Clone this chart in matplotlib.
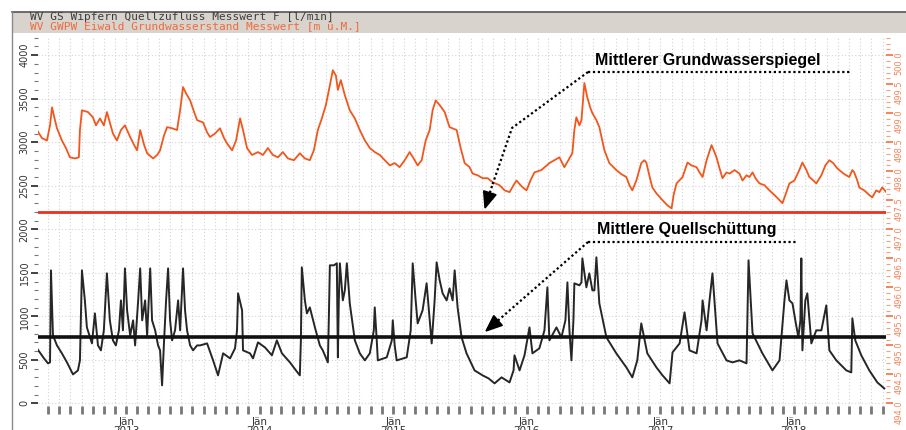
import numpy as np
import pandas as pd
import matplotlib
matplotlib.use("Agg")
import matplotlib.pyplot as plt
import matplotlib.dates as mdates
from matplotlib.ticker import MultipleLocator, FuncFormatter
from matplotlib.lines import Line2D
from matplotlib.patches import Polygon, Rectangle

# spring discharge [l/min], time in decimal years
flow_t = [2012.334, 2012.387, 2012.417, 2012.432, 2012.439, 2012.454, 2012.484, 2012.521, 2012.559, 2012.604,
          2012.641, 2012.656, 2012.671, 2012.693, 2012.708, 2012.746, 2012.768, 2012.791, 2012.813, 2012.835,
          2012.858, 2012.880, 2012.903, 2012.925, 2012.948, 2012.963, 2012.978, 2012.993, 2013.007, 2013.030,
          2013.052, 2013.067, 2013.090, 2013.105, 2013.120, 2013.142, 2013.157, 2013.180, 2013.194, 2013.217,
          2013.239, 2013.254, 2013.269, 2013.284, 2013.299, 2013.314, 2013.329, 2013.344, 2013.366, 2013.389,
          2013.404, 2013.426, 2013.441, 2013.456, 2013.479, 2013.501, 2013.531, 2013.553, 2013.606, 2013.651,
          2013.688, 2013.726, 2013.778, 2013.815, 2013.830, 2013.838, 2013.868, 2013.875, 2013.927, 2013.950,
          2013.987, 2014.040, 2014.092, 2014.129, 2014.167, 2014.227, 2014.272, 2014.301, 2014.309, 2014.316,
          2014.339, 2014.354, 2014.376, 2014.414, 2014.451, 2014.473, 2014.511, 2014.518, 2014.526, 2014.556,
          2014.578, 2014.586, 2014.593, 2014.601, 2014.623, 2014.638, 2014.653, 2014.675, 2014.713, 2014.750,
          2014.788, 2014.825, 2014.855, 2014.862, 2014.877, 2014.885, 2014.952, 2014.990, 2014.997, 2015.012,
          2015.027, 2015.102, 2015.132, 2015.147, 2015.169, 2015.184, 2015.221, 2015.251, 2015.274, 2015.289,
          2015.311, 2015.326, 2015.349, 2015.371, 2015.401, 2015.423, 2015.446, 2015.461, 2015.483, 2015.513,
          2015.550, 2015.610, 2015.670, 2015.715, 2015.760, 2015.812, 2015.872, 2015.902, 2015.909, 2015.947,
          2015.984, 2016.022, 2016.044, 2016.096, 2016.134, 2016.156, 2016.171, 2016.224, 2016.261, 2016.291,
          2016.306, 2016.321, 2016.336, 2016.351, 2016.358, 2016.396, 2016.411, 2016.418, 2016.448, 2016.470,
          2016.493, 2016.508, 2016.523, 2016.545, 2016.598, 2016.672, 2016.747, 2016.792, 2016.829, 2016.859,
          2016.904, 2016.972, 2017.016, 2017.069, 2017.091, 2017.144, 2017.181, 2017.218, 2017.271, 2017.308,
          2017.316, 2017.346, 2017.368, 2017.390, 2017.428, 2017.495, 2017.540, 2017.592, 2017.645, 2017.660,
          2017.690, 2017.764, 2017.839, 2017.892, 2017.929, 2017.944, 2017.966, 2017.989, 2018.011, 2018.034,
          2018.049, 2018.056, 2018.064, 2018.086, 2018.101, 2018.131, 2018.168, 2018.206, 2018.243, 2018.266,
          2018.318, 2018.393, 2018.430, 2018.438, 2018.460, 2018.505, 2018.565, 2018.625, 2018.677]
flow_v = [632, 517, 460, 471, 1528, 781, 666, 575, 471, 333,
          379, 494, 1528, 1183, 873, 689, 1034, 666, 609, 839,
          1494, 954, 724, 666, 839, 1183, 839, 1551, 1069, 781,
          954, 666, 1183, 1551, 954, 1183, 781, 1551, 954, 839,
          666, 609, 207, 724, 1183, 1551, 954, 724, 839, 1183,
          839, 1551, 1069, 839, 666, 609, 666, 666, 689, 494,
          322, 575, 517, 632, 839, 1264, 1069, 609, 575, 517,
          701, 643, 552, 724, 575, 471, 379, 322, 724, 1563,
          1183, 1034, 1103, 873, 666, 609, 471, 954, 1586, 1586,
          1609, 529, 1183, 1609, 1183, 1298, 1609, 1149, 724, 575,
          494, 575, 839, 1103, 724, 494, 529, 724, 954, 666,
          494, 529, 839, 1609, 1183, 919, 1069, 1379, 954, 689,
          1183, 1620, 1413, 1264, 1183, 1321, 1183, 1528, 1103, 758,
          575, 379, 322, 287, 230, 299, 241, 379, 552, 379,
          552, 873, 575, 632, 839, 1333, 724, 873, 758, 954,
          1390, 839, 494, 954, 1379, 1356, 1390, 1666, 1333, 1494,
          1298, 1298, 1678, 1149, 758, 575, 414, 299, 494, 919,
          575, 414, 322, 230, 586, 689, 1046, 609, 575, 954,
          1183, 839, 1183, 1494, 689, 494, 471, 494, 460, 1643,
          804, 575, 379, 494, 1183, 1413, 1183, 1149, 954, 758,
          954, 1666, 609, 1183, 1264, 689, 839, 839, 1126, 609,
          494, 379, 356, 977, 724, 552, 379, 241, 172]

# groundwater level [m ü.M.], time in decimal years
level_t = [2012.334, 2012.372, 2012.409, 2012.432, 2012.447, 2012.469, 2012.484, 2012.521, 2012.551, 2012.581,
           2012.619, 2012.648, 2012.656, 2012.671, 2012.716, 2012.753, 2012.776, 2012.806, 2012.835, 2012.858,
           2012.880, 2012.903, 2012.933, 2012.963, 2012.993, 2013.030, 2013.060, 2013.082, 2013.105, 2013.135,
           2013.157, 2013.202, 2013.232, 2013.254, 2013.284, 2013.307, 2013.344, 2013.381, 2013.404, 2013.426,
           2013.449, 2013.479, 2013.509, 2013.531, 2013.576, 2013.606, 2013.628, 2013.666, 2013.703, 2013.733,
           2013.755, 2013.793, 2013.823, 2013.853, 2013.875, 2013.905, 2013.942, 2013.987, 2014.025, 2014.062,
           2014.099, 2014.137, 2014.174, 2014.212, 2014.257, 2014.301, 2014.339, 2014.376, 2014.406, 2014.436,
           2014.466, 2014.496, 2014.526, 2014.548, 2014.571, 2014.586, 2014.608, 2014.638, 2014.675, 2014.713,
           2014.750, 2014.788, 2014.825, 2014.862, 2014.900, 2014.937, 2014.975, 2015.012, 2015.049, 2015.087,
           2015.124, 2015.154, 2015.184, 2015.214, 2015.244, 2015.274, 2015.296, 2015.319, 2015.349, 2015.386,
           2015.423, 2015.476, 2015.506, 2015.536, 2015.573, 2015.595, 2015.633, 2015.670, 2015.708, 2015.745,
           2015.797, 2015.835, 2015.872, 2015.902, 2015.924, 2015.962, 2015.999, 2016.029, 2016.059, 2016.111,
           2016.171, 2016.209, 2016.246, 2016.283, 2016.321, 2016.343, 2016.358, 2016.373, 2016.396, 2016.411,
           2016.433, 2016.455, 2016.478, 2016.493, 2016.523, 2016.545, 2016.583, 2016.620, 2016.650, 2016.672,
           2016.710, 2016.747, 2016.770, 2016.792, 2016.822, 2016.859, 2016.882, 2016.897, 2016.919, 2016.942,
           2016.972, 2017.016, 2017.054, 2017.084, 2017.099, 2017.121, 2017.166, 2017.203, 2017.233, 2017.271,
           2017.293, 2017.316, 2017.346, 2017.383, 2017.405, 2017.420, 2017.443, 2017.465, 2017.495, 2017.518,
           2017.555, 2017.592, 2017.615, 2017.645, 2017.667, 2017.690, 2017.712, 2017.742, 2017.779, 2017.817,
           2017.854, 2017.892, 2017.914, 2017.936, 2017.966, 2018.004, 2018.041, 2018.064, 2018.094, 2018.116,
           2018.146, 2018.168, 2018.206, 2018.236, 2018.266, 2018.295, 2018.325, 2018.340, 2018.378, 2018.415,
           2018.438, 2018.452, 2018.475, 2018.490, 2018.527, 2018.565, 2018.587, 2018.617, 2018.640, 2018.662,
           2018.692]
level_v = [498.71, 498.57, 498.53, 498.79, 499.10, 498.88, 498.74, 498.53, 498.40, 498.24,
           498.22, 498.24, 498.71, 499.05, 499.02, 498.93, 498.79, 498.91, 498.79, 499.02,
           498.84, 498.65, 498.53, 498.71, 498.79, 498.59, 498.45, 498.36, 498.71, 498.45,
           498.31, 498.22, 498.28, 498.36, 498.62, 498.76, 498.74, 498.71, 499.05, 499.45,
           499.34, 499.22, 499.02, 498.88, 498.84, 498.67, 498.59, 498.65, 498.74, 498.57,
           498.48, 498.36, 498.53, 498.91, 498.71, 498.40, 498.28, 498.33, 498.28, 498.40,
           498.28, 498.24, 498.33, 498.22, 498.19, 498.31, 498.22, 498.19, 498.36, 498.71,
           498.91, 499.14, 499.48, 499.74, 499.65, 499.40, 499.57, 499.31, 499.05, 498.91,
           498.71, 498.53, 498.40, 498.33, 498.28, 498.19, 498.10, 498.14, 498.07, 498.19,
           498.33, 498.22, 498.10, 498.19, 498.53, 498.71, 499.05, 499.22, 499.14, 499.02,
           498.76, 498.71, 498.40, 498.14, 498.07, 497.96, 497.93, 497.88, 497.88, 497.81,
           497.76, 497.67, 497.64, 497.76, 497.84, 497.74, 497.67, 497.84, 497.98, 498.02,
           498.14, 498.19, 498.24, 498.07, 498.22, 498.31, 498.71, 498.93, 498.79, 498.88,
           499.52, 499.27, 499.09, 499.00, 498.88, 498.76, 498.36, 498.14, 498.07, 498.02,
           497.95, 497.90, 497.76, 497.67, 497.84, 498.14, 498.19, 498.15, 497.93, 497.72,
           497.62, 497.50, 497.41, 497.36, 497.59, 497.79, 497.90, 498.15, 498.10, 498.07,
           497.98, 497.90, 498.19, 498.45, 498.33, 498.24, 498.05, 497.88, 497.98, 497.96,
           498.02, 497.96, 497.84, 497.93, 497.90, 497.98, 497.88, 497.79, 497.76, 497.67,
           497.59, 497.50, 497.45, 497.59, 497.79, 497.84, 498.02, 498.15, 498.02, 497.90,
           497.84, 497.79, 497.93, 498.10, 498.19, 498.14, 498.05, 498.02, 497.95, 497.90,
           498.02, 497.98, 497.84, 497.72, 497.67, 497.59, 497.55, 497.67, 497.64, 497.72,
           497.64]

mean_flow = 760      # Mittlere Quellschüttung
mean_level = 497.3   # Mittlerer Grundwasserspiegel

W, H = 906, 430


def to_dates(years):
    years = np.asarray(years, dtype=float)
    whole = np.floor(years).astype(int)
    start = pd.to_datetime([f"{y}-01-01" for y in whole])
    return start + pd.to_timedelta((years - whole) * 365.25, unit="D")


def fx(x):
    return x / W


def fy(y):
    return 1 - y / H


fig = plt.figure(figsize=(W / 100, H / 100), dpi=100)
fig.patch.set_facecolor("white")

# header band with the two series names
fig.patches.append(Rectangle((fx(12), fy(33)), 1 - fx(12), fy(12) - fy(33),
                             transform=fig.transFigure, facecolor="#d8d4cd", edgecolor="none", zorder=0))
fig.lines.append(Line2D([fx(12), 1], [fy(12), fy(12)], transform=fig.transFigure, color="#555555", lw=1.2))
fig.lines.append(Line2D([fx(12), fx(12)], [fy(12), 0], transform=fig.transFigure, color="#8a8a8a", lw=1.0))
fig.text(fx(30), fy(17), "WV GS Wipfern Quellzufluss Messwert F [l/min]", family="DejaVu Sans Mono",
         fontsize=8, color="#3c3c3c", va="center", ha="left")
fig.text(fx(30), fy(26.5), "WV GWPW Eiwald Grundwasserstand Messwert [m ü.M.]", family="DejaVu Sans Mono",
         fontsize=8, color="#f06a3c", va="center", ha="left")

ax = fig.add_axes([fx(38), fy(406), fx(886) - fx(38), fy(36) - fy(406)])
ax2 = ax.twinx()

# discharge on left axis
ax.plot(to_dates(flow_t), flow_v, color="#262626", lw=1.4, zorder=3)
ax.axhline(mean_flow, color="#111111", lw=2.6, zorder=4)
ax.set_ylim(-30, 4220)
ax.yaxis.set_major_locator(MultipleLocator(500))
ax.yaxis.set_minor_locator(MultipleLocator(100))
ax.tick_params(axis="y", which="major", labelsize=7, labelcolor="#333333", color="#222222",
               length=5, width=1.2, labelrotation=90, pad=1)
ax.tick_params(axis="y", which="minor", color="#777777", length=3, width=0.8)
for lab in ax.get_yticklabels():
    lab.set_va("center")

# groundwater level on right axis
ax2.plot(to_dates(level_t), level_v, color="#f2561d", lw=1.3, zorder=3)
ax2.axhline(mean_level, color="#e8321f", lw=2.0, zorder=4)
ax2.set_ylim(493.955, 500.33)
ax2.yaxis.set_major_locator(MultipleLocator(0.5))
ax2.yaxis.set_minor_locator(MultipleLocator(0.1))
ax2.yaxis.set_major_formatter(FuncFormatter(lambda v, p: f"{v:.1f}"))
ax2.tick_params(axis="y", which="major", labelsize=6, colors="#f4845a", length=5, width=1.4,
                labelrotation=90, pad=1)
ax2.tick_params(axis="y", which="minor", colors="#f7a07e", length=3, width=0.8)

# time axis
ax.set_xlim(to_dates([2012.342, 2018.69]))
ax.xaxis.set_major_locator(mdates.MonthLocator())
ax.xaxis.set_major_formatter(FuncFormatter(
    lambda v, p: ("Jän\n" + str(mdates.num2date(v).year)) if mdates.num2date(v).month == 1 else ""))
ax.tick_params(axis="x", length=6, width=1.0, color="#777777", labelsize=7.5,
               labelcolor="#333333", pad=2)
for t in ax.xaxis.get_major_ticks():
    if mdates.num2date(t.get_loc()).month == 1:
        t.tick1line.set_color("#e8321f")
        t.tick1line.set_markeredgewidth(2)
for lab in ax.get_xticklabels():
    lab.set_linespacing(0.9)

ax.grid(True, axis="x", color="#d2d2d2", ls=(0, (1, 2)), lw=0.8)
ax.grid(True, axis="y", color="#d6d6d6", ls=(0, (1, 2)), lw=0.8)
ax.set_axisbelow(True)
for a in (ax, ax2):
    for s in a.spines.values():
        s.set_visible(False)

# annotations
dot = (0, (1, 1.2))


def arrow(points, tip):
    xs = [fx(p[0]) for p in points] + [fx(tip[0])]
    ys = [fy(p[1]) for p in points] + [fy(tip[1])]
    fig.lines.append(Line2D(xs[:-1], ys[:-1], transform=fig.transFigure, color="black",
                            lw=1.6, ls=dot, zorder=10))
    # dotted run up to the base of the head, then a filled head
    px0, py0 = points[-1]
    dx, dy = tip[0] - px0, tip[1] - py0
    n = np.hypot(dx, dy)
    ux, uy = dx / n, dy / n
    bx, by = tip[0] - 16 * ux, tip[1] - 16 * uy
    fig.lines.append(Line2D([fx(px0), fx(bx)], [fy(py0), fy(by)], transform=fig.transFigure,
                            color="black", lw=1.6, ls=dot, zorder=10))
    head = [(tip[0], tip[1]), (bx - 6.5 * uy, by + 6.5 * ux), (bx + 6.5 * uy, by - 6.5 * ux)]
    fig.patches.append(Polygon([(fx(a), fy(b)) for a, b in head], closed=True,
                               transform=fig.transFigure, facecolor="black", edgecolor="black", zorder=11))


fig.text(fx(595), fy(60), "Mittlerer Grundwasserspiegel", family="Liberation Sans", weight="bold",
         fontsize=11.5, color="black", va="center", ha="left")
fig.lines.append(Line2D([fx(588), fx(850)], [fy(72), fy(72)], transform=fig.transFigure,
                        color="black", lw=1.6, ls=dot))
arrow([(588, 72), (512, 128), (492, 186)], (485, 208))

fig.text(fx(597), fy(230), "Mittlere Quellschüttung", family="Liberation Sans", weight="bold",
         fontsize=11.5, color="black", va="center", ha="left")
fig.lines.append(Line2D([fx(588), fx(797)], [fy(242), fy(242)], transform=fig.transFigure,
                        color="black", lw=1.6, ls=dot))
arrow([(588, 242)], (486, 331))

fig.savefig("out.png", dpi=100)
